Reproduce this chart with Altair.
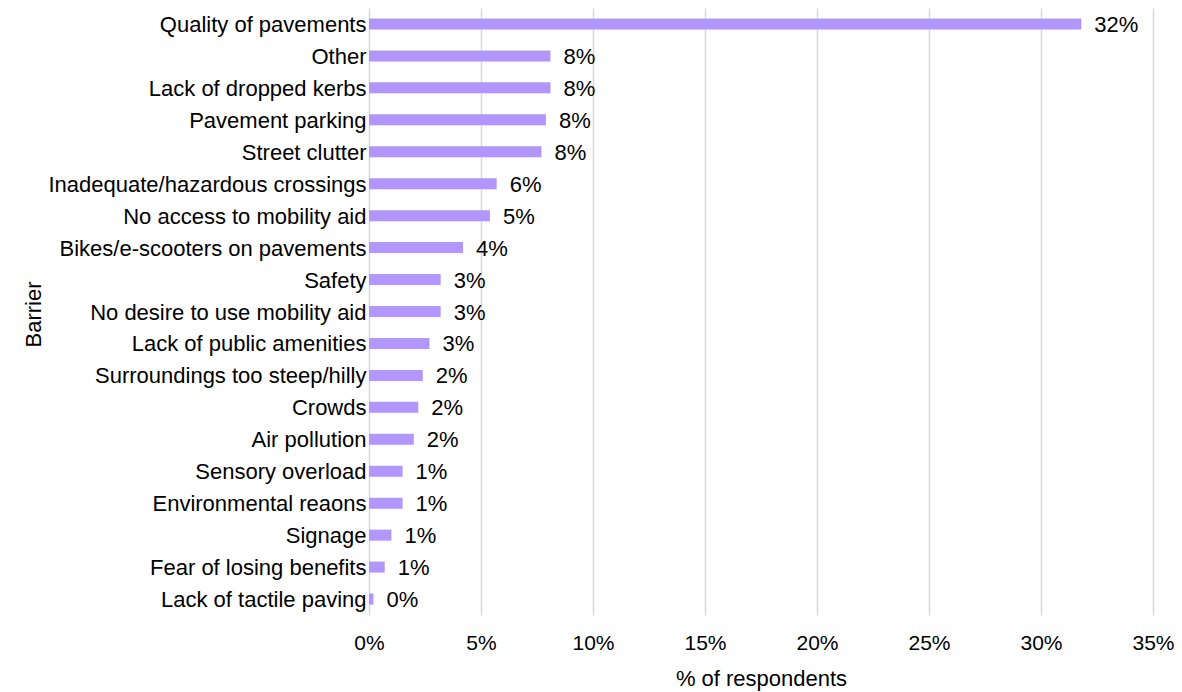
import altair as alt
import pandas as pd

barriers = [
    "Quality of pavements",
    "Other",
    "Lack of dropped kerbs",
    "Pavement parking",
    "Street clutter",
    "Inadequate/hazardous crossings",
    "No access to mobility aid",
    "Bikes/e-scooters on pavements",
    "Safety",
    "No desire to use mobility aid",
    "Lack of public amenities",
    "Surroundings too steep/hilly",
    "Crowds",
    "Air pollution",
    "Sensory overload",
    "Environmental reaons",
    "Signage",
    "Fear of losing benefits",
    "Lack of tactile paving",
]
values = [31.8, 8.1, 8.1, 7.9, 7.7, 5.7, 5.4, 4.2, 3.2, 3.2, 2.7, 2.4, 2.2, 2.0,
          1.5, 1.5, 1.0, 0.7, 0.2]
labels = ["32%", "8%", "8%", "8%", "8%", "6%", "5%", "4%", "3%", "3%", "3%", "2%",
          "2%", "2%", "1%", "1%", "1%", "1%", "0%"]

df = pd.DataFrame({"barrier": barriers, "value": values, "label": labels})

FONT = "Liberation Sans"
FS = 22

y = alt.Y("barrier:N", sort=barriers, title="Barrier",
          scale=alt.Scale(paddingInner=0.0, paddingOuter=0.0),
          axis=alt.Axis(labelFontSize=FS, labelFont=FONT, labelColor="#000",
                        labelPadding=3, ticks=False, tickSize=0, domain=False,
                        labelLimit=400, labelOffset=1, titleFontSize=FS, titleFont=FONT,
                        titleFontWeight="normal", titleColor="#000",
                        titleX=-324, titleY=306))
x = alt.X("value:Q", title="% of respondents",
          scale=alt.Scale(domain=[0, 35], nice=False),
          axis=alt.Axis(values=[0, 5, 10, 15, 20, 25, 30, 35],
                        labelExpr="datum.value + '%'", labelFlush=False,
                        labelFontSize=21, labelFont=FONT, labelColor="#000",
                        ticks=False, tickSize=0, domain=False, labelPadding=17,
                        grid=True, gridColor="#d9d9d9", gridWidth=1.6,
                        titleFontSize=FS, titleFont=FONT, titleFontWeight="normal",
                        titleColor="#000", titleY=53))

bars = alt.Chart(df).mark_bar(size=11, color="#b197fc").encode(x=x, y=y)
text = alt.Chart(df).mark_text(align="left", dx=13, dy=1, fontSize=FS, font=FONT,
                               color="#000").encode(x=x, y=y, text="label:N")

chart = (bars + text).properties(
    width=784, height=607,
    autosize=alt.AutoSizeParams(type="none"),
    padding={"left": 361, "top": 0, "right": 21, "bottom": 76},
).configure_view(stroke=None)

chart.save("out.html", embed_options={"renderer": "svg", "actions": False})
